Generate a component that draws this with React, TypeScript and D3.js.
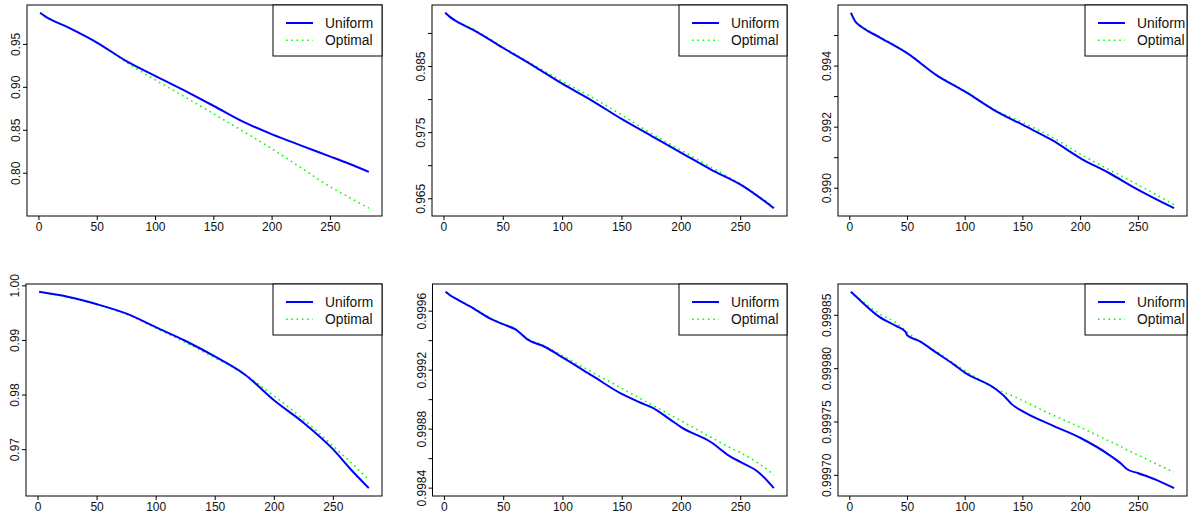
import React from "react";
import * as d3 from "d3";

// ---------- data ----------
const p1X = [1, 5, 25, 50, 75, 100, 125, 150, 175, 200, 225, 250, 265, 283];
const p1Uniform = [0.9868, 0.9829, 0.9698, 0.9519, 0.9306, 0.9132, 0.8961, 0.8783, 0.8601, 0.8453, 0.8322, 0.8194, 0.8116, 0.8016];
const p1Optimal = [0.9868, 0.9829, 0.9698, 0.9519, 0.9292, 0.9085, 0.8890, 0.8690, 0.8490, 0.8283, 0.8062, 0.7840, 0.7727, 0.7593];

const p2X = [1, 5, 10, 25, 50, 75, 100, 125, 150, 175, 200, 225, 250, 278];
const p2Uniform = [0.99312, 0.99251, 0.9919, 0.9905, 0.9878, 0.98515, 0.98236, 0.97982, 0.97703, 0.97449, 0.97195, 0.96942, 0.96713, 0.96358];
const p2Optimal = [0.99312, 0.99251, 0.9919, 0.9906, 0.9879, 0.9853, 0.98272, 0.98033, 0.97764, 0.97485, 0.97231, 0.96977, 0.96723, 0.96378];

const p3X = [1, 5, 10, 25, 50, 75, 100, 125, 150, 175, 200, 225, 250, 281];
const p3Uniform = [0.995744, 0.99545, 0.995286, 0.994959, 0.994414, 0.993706, 0.993161, 0.992561, 0.992071, 0.99158, 0.990981, 0.99049, 0.989946, 0.989346];
const p3Optimal = [0.995744, 0.99545, 0.99531, 0.99498, 0.99443, 0.99372, 0.99318, 0.99258, 0.992147, 0.991679, 0.991112, 0.990599, 0.990109, 0.989455];

const p4X = [1, 25, 50, 75, 100, 125, 150, 175, 200, 225, 250, 265, 280];
const p4Uniform = [0.9989, 0.998, 0.99663, 0.9949, 0.9924, 0.9899, 0.98702, 0.98377, 0.979, 0.97489, 0.97, 0.96632, 0.96295];
const p4Optimal = [0.9989, 0.99795, 0.99655, 0.9948, 0.99225, 0.9896, 0.9868, 0.98377, 0.9798, 0.9755, 0.97061, 0.9676, 0.96448];

const p5X = [1, 5, 10, 25, 40, 50, 60, 70, 85, 100, 125, 150, 165, 175, 190, 200, 225, 240, 250, 265, 278];
const p5Uniform = [0.999731, 0.999706, 0.999683, 0.999616, 0.999544, 0.99951, 0.999476, 0.999409, 0.999357, 0.999285, 0.999161, 0.999037, 0.998981, 0.998947, 0.998868, 0.998812, 0.998711, 0.998621, 0.998576, 0.998508, 0.9984];
const p5Optimal = [0.999731, 0.999706, 0.999683, 0.99962, 0.999548, 0.999512, 0.999478, 0.999415, 0.999362, 0.999296, 0.999185, 0.999075, 0.999009, 0.998965, 0.998899, 0.998855, 0.998745, 0.998679, 0.99864, 0.998568, 0.99849];

const p6X = [1, 10, 25, 40, 48, 50, 60, 75, 90, 100, 125, 135, 140, 150, 175, 200, 225, 235, 240, 250, 265, 281];
const p6Uniform = [0.999872, 0.999863, 0.999849, 0.99984, 0.999835, 0.999831, 0.999826, 0.999815, 0.999804, 0.999796, 0.999782, 0.999773, 0.999767, 0.99976, 0.999747, 0.999735, 0.999719, 0.999711, 0.999706, 0.999702, 0.999696, 0.999688];
const p6Optimal = [0.999872, 0.999864, 0.999852, 0.999843, 0.999836, 0.999834, 0.999826, 0.999816, 0.999805, 0.999798, 0.999782, 0.999777, 0.999775, 0.99977, 0.999757, 0.999745, 0.999732, 0.999727, 0.999724, 0.999719, 0.999711, 0.999703];

const xTicks = [0, 50, 100, 150, 200, 250];
const p1YTicks = [0.8, 0.85, 0.9, 0.95];
const p1YLabels = ["0.80", "0.85", "0.90", "0.95"];
const p2YTicks = [0.965, 0.97, 0.975, 0.98, 0.985, 0.99];
const p2YLabels = ["0.965", "", "0.975", "", "0.985", ""];
const p3YTicks = [0.99, 0.991, 0.992, 0.993, 0.994, 0.995];
const p3YLabels = ["0.990", "", "0.992", "", "0.994", ""];
const p4YTicks = [0.97, 0.98, 0.99, 1.0];
const p4YLabels = ["0.97", "0.98", "0.99", "1.00"];
const p5YTicks = [0.9984, 0.9986, 0.9988, 0.999, 0.9992, 0.9994, 0.9996];
const p5YLabels = ["0.9984", "", "0.9988", "", "0.9992", "", "0.9996"];
const p6YTicks = [0.9997, 0.99975, 0.9998, 0.99985];
const p6YLabels = ["0.99970", "0.99975", "0.99980", "0.99985"];

const seriesNames = ["Uniform", "Optimal"];

// ---------- layout ----------
const panels = [
  { box: [27, 5, 382, 216], x: p1X, u: p1Uniform, o: p1Optimal, yt: p1YTicks, yl: p1YLabels, legW: 109 },
  { box: [432, 5, 787, 216], x: p2X, u: p2Uniform, o: p2Optimal, yt: p2YTicks, yl: p2YLabels, legW: 108 },
  { box: [838, 5, 1187, 216], x: p3X, u: p3Uniform, o: p3Optimal, yt: p3YTicks, yl: p3YLabels, legW: 102 },
  { box: [26, 284, 382, 496], x: p4X, u: p4Uniform, o: p4Optimal, yt: p4YTicks, yl: p4YLabels, legW: 109 },
  { box: [432.5, 284, 787, 496], x: p5X, u: p5Uniform, o: p5Optimal, yt: p5YTicks, yl: p5YLabels, legW: 108 },
  { box: [838, 284, 1187, 496], x: p6X, u: p6Uniform, o: p6Optimal, yt: p6YTicks, yl: p6YLabels, legW: 102 },
];

const FONT = "'Liberation Sans', Arial, Helvetica, sans-serif";

function Panel({ p }: { p: any }) {
  const [x0, y0, x1, y1] = p.box;
  const n0 = d3.min(p.x as number[])!;
  const n1 = d3.max(p.x as number[])!;
  const xr = n1 - n0;
  const xs = d3.scaleLinear().domain([n0 - 0.04 * xr, n1 + 0.04 * xr]).range([x0, x1]);
  const all = [...p.u, ...p.o] as number[];
  const ymin = d3.min(all)!;
  const ymax = d3.max(all)!;
  const yr = ymax - ymin;
  const ys = d3.scaleLinear().domain([ymin - 0.04 * yr, ymax + 0.04 * yr]).range([y1, y0]);
  const line = d3
    .line<number>()
    .x((_, i) => xs(p.x[i]))
    .y((d) => ys(d))
    .curve(d3.curveMonotoneX);
  const L = x1 - p.legW;
  return (
    <g>
      <path d={line(p.o) || ""} fill="none" stroke="#00ff00" strokeWidth={1.6} strokeDasharray="1.6 3.7" />
      <path d={line(p.u) || ""} fill="none" stroke="#0000ff" strokeWidth={2} strokeLinejoin="round" />
      <rect x={x0} y={y0} width={x1 - x0} height={y1 - y0} fill="none" stroke="#000" strokeWidth={1} />
      {xTicks.map((t) => (
        <g key={"x" + t}>
          <line x1={xs(t)} x2={xs(t)} y1={y1} y2={y1 + 4} stroke="#000" />
          <text x={xs(t)} y={y1 + 11} textAnchor="middle" dominantBaseline="central" fontSize={12} fontFamily={FONT} fill="#111">
            {t}
          </text>
        </g>
      ))}
      {p.yt.map((t: number, i: number) => (
        <g key={"y" + i}>
          <line x1={x0 - 4} x2={x0} y1={ys(t)} y2={ys(t)} stroke="#000" />
          {p.yl[i] ? (
            <text
              transform={`translate(${x0 - 11},${ys(t)}) rotate(-90)`}
              textAnchor="middle"
              dominantBaseline="central"
              fontSize={12}
              fontFamily={FONT}
              fill="#111"
            >
              {p.yl[i]}
            </text>
          ) : null}
        </g>
      ))}
      <rect x={L} y={y0} width={p.legW} height={51} fill="#fff" stroke="#000" strokeWidth={1} />
      <line x1={L + 13} x2={L + 40} y1={y0 + 18} y2={y0 + 18} stroke="#0000ff" strokeWidth={2} />
      <line x1={L + 13} x2={L + 40} y1={y0 + 35.3} y2={y0 + 35.3} stroke="#00ff00" strokeWidth={1.6} strokeDasharray="1.6 3.7" />
      <text x={L + 52} y={y0 + 18} dominantBaseline="central" fontSize={13.8} fontFamily={FONT} fill="#111">
        {seriesNames[0]}
      </text>
      <text x={L + 52} y={y0 + 35.3} dominantBaseline="central" fontSize={13.8} fontFamily={FONT} fill="#111">
        {seriesNames[1]}
      </text>
    </g>
  );
}

export default function App() {
  return (
    <svg
      width={1198}
      height={513}
      style={{ position: "absolute", left: 0, top: 0, background: "#fff" }}
    >
      <rect x={0} y={0} width={1198} height={513} fill="#fff" />
      {panels.map((p, i) => (
        <Panel key={i} p={p} />
      ))}
    </svg>
  );
}
